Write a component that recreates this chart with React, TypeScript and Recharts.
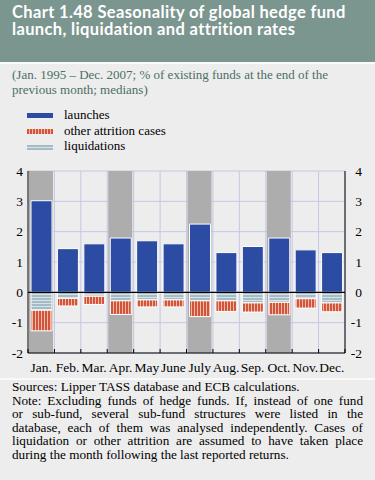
import { ComposedChart, Bar, XAxis, YAxis, CartesianGrid, ReferenceLine } from 'recharts';

const months = ['Jan.', 'Feb.', 'Mar.', 'Apr.', 'May', 'June', 'July', 'Aug.', 'Sep.', 'Oct.', 'Nov.', 'Dec.'];
const launches = [3.02, 1.44, 1.6, 1.79, 1.7, 1.6, 2.25, 1.31, 1.51, 1.79, 1.4, 1.31];
const liquidations = [0.59, 0.2, 0.13, 0.28, 0.25, 0.25, 0.28, 0.28, 0.35, 0.33, 0.21, 0.35];
const otherAttrition = [0.68, 0.25, 0.27, 0.45, 0.23, 0.23, 0.52, 0.35, 0.3, 0.41, 0.31, 0.29];
const shadedMonths = ['Jan.', 'Apr.', 'July', 'Oct.'];
const shadeRange = [-2, 4];
const yTicks = [-2, -1, 0, 1, 2, 3, 4];
const monthTicks = Array.from({ length: 25 }, (_, i) => i / 2);

const titleLines = ['Chart 1.48 Seasonality of global hedge fund', 'launch, liquidation and attrition rates'];
const subtitleLines = ['(Jan. 1995 – Dec. 2007; % of existing funds at the end of the', 'previous month; medians)'];
const noteLines = [
  { text: 'Sources: Lipper TASS database and ECB calculations.', justify: false },
  { text: 'Note: Excluding funds of hedge funds. If, instead of one fund', justify: true },
  { text: 'or sub-fund, several sub-fund structures were listed in the', justify: true },
  { text: 'database, each of them was analysed independently. Cases of', justify: true },
  { text: 'liquidation or other attrition are assumed to have taken place', justify: true },
  { text: 'during the month following the last reported returns.', justify: false },
];

const BLUE = '#2b4ca2';
const RED = '#d1553b';
const PINK = '#f1b9a6';
const LIQ = '#a4bcc6';
const LIQ_LINE = '#d7e3e8';

const legendItems = [
  { name: 'launches', bg: BLUE },
  { name: 'other attrition cases', bg: `repeating-linear-gradient(90deg, ${RED} 0 2px, ${PINK} 2px 3px)` },
  { name: 'liquidations', bg: `repeating-linear-gradient(180deg, ${LIQ} 0 2px, ${LIQ_LINE} 2px 3px)` },
];

const chartData = months.map((m, i) => ({
  month: m,
  idx: i + 0.5,
  launches: launches[i],
  liquidations: -liquidations[i],
  other: -otherAttrition[i],
  shade: shadedMonths.includes(m) ? shadeRange : null,
}));

const serif = '"Liberation Serif", "Times New Roman", serif';

function MonthTick(props: any) {
  const { x, y, payload } = props;
  const v = payload.value;
  if (Number.isInteger(v)) {
    return <line x1={x} x2={x} y1={y - 4} y2={y} stroke="#000" strokeWidth={1} />;
  }
  return (
    <text x={x} y={y + 19} textAnchor="middle" fontSize={13.5} fontFamily={serif} fill="#000">
      {months[Math.floor(v)]}
    </text>
  );
}

export default function App() {
  return (
    <div
      style={{
        position: 'absolute',
        left: 0,
        top: 0,
        width: 375,
        height: 480,
        background: '#ededed',
        overflow: 'hidden',
        fontFamily: serif,
      }}
    >
      <div style={{ position: 'absolute', left: 0, top: 0, width: 375, height: 62, background: '#7b958f' }} />
      <div style={{ position: 'absolute', left: 0, top: 62, width: 375, height: 2, background: '#fafafa' }} />
      <div
        style={{
          position: 'absolute',
          left: 12,
          top: 4,
          color: '#fff',
          fontFamily: 'Lato, sans-serif',
          fontWeight: 700,
          fontSize: 16.5,
          lineHeight: '17px',
          letterSpacing: 0.35,
          whiteSpace: 'nowrap',
        }}
      >
        {titleLines.map((l) => (
          <div key={l}>{l}</div>
        ))}
      </div>

      <div
        style={{
          position: 'absolute',
          left: 12,
          top: 67,
          color: '#4b6f66',
          fontSize: 13,
          lineHeight: '15px',
          whiteSpace: 'nowrap',
        }}
      >
        {subtitleLines.map((l) => (
          <div key={l}>{l}</div>
        ))}
      </div>

      {legendItems.map((it, i) => (
        <div key={it.name}>
          <div
            style={{
              position: 'absolute',
              left: 27,
              top: 113 + i * 16,
              width: 26,
              height: 5,
              background: it.bg,
            }}
          />
          <div
            style={{
              position: 'absolute',
              left: 64,
              top: 107 + i * 15.5,
              fontSize: 13,
              lineHeight: '15px',
              color: '#000',
              whiteSpace: 'nowrap',
            }}
          >
            {it.name}
          </div>
        </div>
      ))}

      <div style={{ position: 'absolute', left: 0, top: 160 }}>
        <ComposedChart
          width={375}
          height={220}
          data={chartData}
          stackOffset="sign"
          barGap={0}
          margin={{ top: 11, right: 0, bottom: 0, left: 0 }}
        >
          <defs>
            <pattern id="otherPat" width="3" height="4" patternUnits="userSpaceOnUse">
              <rect width="3" height="4" fill={PINK} />
              <rect width="2" height="4" fill={RED} />
            </pattern>
            <pattern id="liqPat" width="4" height="3" patternUnits="userSpaceOnUse">
              <rect width="4" height="3" fill={LIQ_LINE} />
              <rect width="4" height="2" fill={LIQ} />
            </pattern>
          </defs>
          <CartesianGrid
            yAxisId="left"
            stroke="#c6c6e6"
            strokeWidth={1}
            verticalCoordinatesGenerator={({ offset }: any) =>
              months.map((_, i) => offset.left + ((i + 1) * offset.width) / months.length)
            }
          />
          <XAxis
            xAxisId="num"
            dataKey="idx"
            type="number"
            domain={[0, 12]}
            allowDataOverflow
            ticks={monthTicks}
            interval={0}
            height={27}
            tickSize={0}
            tickMargin={0}
            tickLine={false}
            axisLine={{ stroke: '#000', strokeWidth: 1 }}
            tick={<MonthTick />}
          />
          <XAxis xAxisId="bg" dataKey="month" hide height={0} />
          <XAxis xAxisId="cat" dataKey="month" hide height={0} />
          <YAxis
            yAxisId="left"
            domain={[-2, 4]}
            ticks={yTicks}
            allowDataOverflow
            width={28}
            tickSize={0}
            tickMargin={5}
            tickLine={false}
            axisLine={{ stroke: '#000', strokeWidth: 1 }}
            tick={{ fontSize: 13.5, fontFamily: serif, fill: '#000' }}
          />
          <YAxis
            yAxisId="right"
            orientation="right"
            domain={[-2, 4]}
            ticks={yTicks}
            allowDataOverflow
            width={30}
            tickSize={0}
            tickMargin={17}
            tickLine={false}
            axisLine={{ stroke: '#000', strokeWidth: 1 }}
            tick={{ fontSize: 13.5, fontFamily: serif, fill: '#000', textAnchor: 'end' }}
          />
          <Bar xAxisId="bg" yAxisId="left" dataKey="shade" fill="#adadad" barSize={24} isAnimationActive={false} />
          <Bar
            xAxisId="cat"
            yAxisId="left"
            dataKey="launches"
            stackId="s"
            fill={BLUE}
            stroke="#fff"
            strokeWidth={1}
            barSize={21}
            isAnimationActive={false}
          />
          <Bar
            xAxisId="cat"
            yAxisId="left"
            dataKey="liquidations"
            stackId="s"
            fill="url(#liqPat)"
            stroke="#fff"
            strokeWidth={1}
            barSize={21}
            isAnimationActive={false}
          />
          <Bar
            xAxisId="cat"
            yAxisId="left"
            dataKey="other"
            stackId="s"
            fill="url(#otherPat)"
            stroke="#fff"
            strokeWidth={1}
            barSize={21}
            isAnimationActive={false}
          />
          <ReferenceLine yAxisId="left" xAxisId="cat" y={0} stroke="#000" strokeWidth={1.2} />
        </ComposedChart>
      </div>

      <div style={{ position: 'absolute', left: 0, top: 378, width: 375, height: 2, background: '#fafafa' }} />
      <div
        style={{
          position: 'absolute',
          left: 12,
          top: 380,
          width: 351,
          fontSize: 13.2,
          lineHeight: '13.6px',
          color: '#000',
        }}
      >
        {noteLines.map((l) => (
          <div
            key={l.text}
            style={{
              whiteSpace: 'nowrap',
              textAlign: l.justify ? 'justify' : 'left',
              textAlignLast: l.justify ? 'justify' : 'left',
            }}
          >
            {l.text}
          </div>
        ))}
      </div>
    </div>
  );
}
